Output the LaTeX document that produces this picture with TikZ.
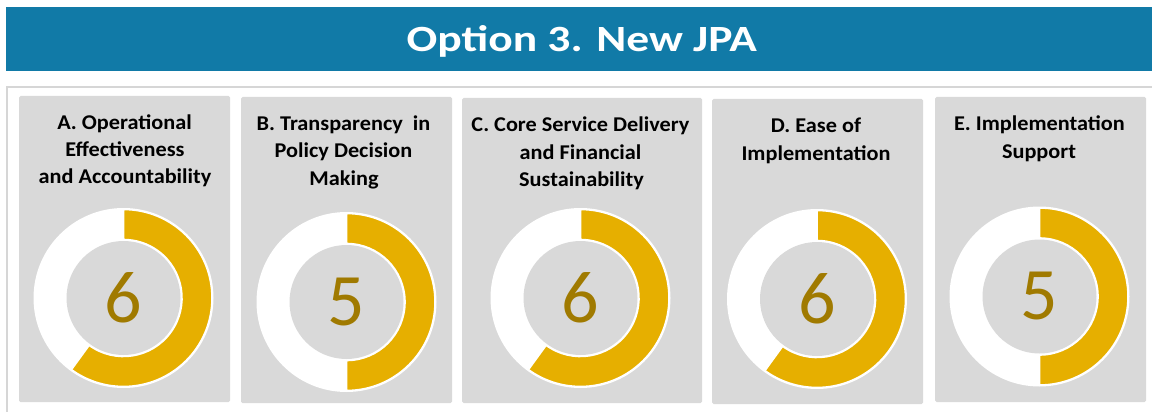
\documentclass[tikz,border=0pt]{standalone}
\usepackage{fontspec}
\setmainfont{Carlito}
\newfontfamily\titlefont[FakeStretch=1.23]{Carlito}
\newfontfamily\cardfont[FakeStretch=1.06]{Carlito}
\definecolor{barblue}{RGB}{17,122,167}
\definecolor{framegray}{RGB}{214,214,214}
\definecolor{cardgray}{RGB}{217,217,217}
\definecolor{ringgold}{RGB}{230,175,0}
\definecolor{numgold}{RGB}{160,122,0}
\tikzset{
  titletext/.style={font=\titlefont\bfseries\fontsize{37}{40}\selectfont, text=white, inner sep=0pt, anchor=base},
  cardbox/.style={fill=cardgray, rounded corners=1.5pt},
  cardtext/.style={font=\cardfont\bfseries\fontsize{21}{27}\selectfont, text=black, inner sep=0pt, anchor=base},
  numtext/.style={font=\fontsize{74}{80}\selectfont, text=numgold, inner sep=0pt},
  goldseg/.style={fill=ringgold, draw=white, line width=1.6pt},
}
% donut: #1 cx, #2 cy, #3 value (out of 10), #4 node name
\newcommand{\mydonut}[4]{%
  \fill[white] (#1,#2) circle[radius=90];
  \pgfmathsetmacro\endang{-90+36*#3}
  \path[goldseg] ([shift={(-90:88.5)}]#1,#2) arc[start angle=-90, end angle=\endang, radius=88.5]
     -- ([shift={(\endang:58.5)}]#1,#2) arc[start angle=\endang, end angle=-90, radius=58.5] -- cycle;
  \fill[cardgray] (#1,#2) circle[radius=57];
  \node[numtext] (#4) at (#1,#2) {#3};
}
\begin{document}
\begin{tikzpicture}[x=1pt,y=-1pt]
\useasboundingbox (0,0) rectangle (1152,412);
\clip (0,0) rectangle (1152,412);
% title bar
\fill[barblue] (6,7.3) rectangle (1160,71);
\node[titletext] (title) at (581.8,52) {Option 3. New JPA};
% frame
\draw[framegray, line width=2pt] (7,86.8) rectangle (1200,460);
% cards
\fill[cardbox] (19,96) rectangle (230,402);
\fill[cardbox] (241,97) rectangle (452,403);
\fill[cardbox] (462,98) rectangle (702,403);
\fill[cardbox] (712,99) rectangle (923,404);
\fill[cardbox] (935,97) rectangle (1146,402);
% card A
\node[cardtext] (a1) at (124.5,129) {A. Operational};
\node[cardtext] (a2) at (125,156) {Effectiveness};
\node[cardtext] (a3) at (125,183) {and Accountability};
\mydonut{123.5}{298}{6}{nA}
% card B
\node[cardtext] (b1) at (343.5,130) {B. Transparency~~in};
\node[cardtext] (b2) at (343.5,157.5) {Policy Decision};
\node[cardtext] (b3) at (344,185) {Making};
\mydonut{346.5}{302}{5}{nB}
% card C
\node[cardtext] (c1) at (580.5,131.7) {C. Core Service Delivery};
\node[cardtext] (c2) at (580.5,159.5) {and Financial};
\node[cardtext] (c3) at (581.5,186.7) {Sustainability};
\mydonut{580.5}{298}{6}{nC}
% card D
\node[cardtext] (d1) at (816,132.7) {D. Ease of};
\node[cardtext] (d2) at (816,160.5) {Implementation};
\mydonut{817}{299}{6}{nD}
% card E
\node[cardtext] (e1) at (1039.5,130.7) {E. Implementation};
\node[cardtext] (e2) at (1039,158.3) {Support};
\mydonut{1039.5}{296.5}{5}{nE}
\end{tikzpicture}
\end{document}
